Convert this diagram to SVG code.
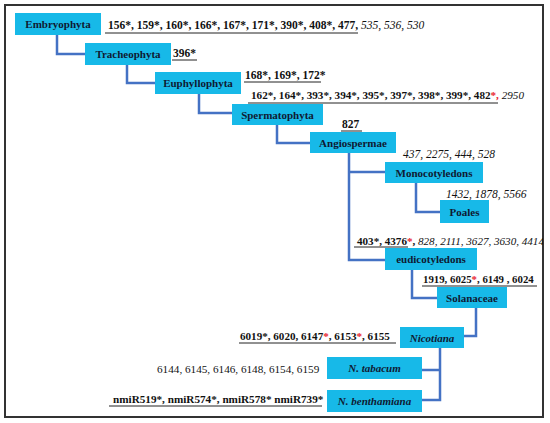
<svg xmlns="http://www.w3.org/2000/svg" width="550" height="423" viewBox="0 0 550 423">
<style>
.n{fill:#17b9e8}
.t{font-family:"Liberation Serif",serif;font-size:11px;font-weight:bold;fill:#0f1a33;text-anchor:middle}
.i{font-style:italic}
.l{font-family:"Liberation Serif",serif;font-size:11.5px;fill:#111}
.s{font-size:11.1px}
.b{font-weight:bold}
.r{fill:#e8202a}
.u{stroke:#222;stroke-width:1}
.c{fill:none;stroke:#4472c4;stroke-width:2.5}
</style>
<rect x="5" y="5" width="538" height="412" fill="#fff" stroke="#333" stroke-width="2"/>
<g id="connectors">
<path class="c" d="M57 35V54H85"/>
<path class="c" d="M127 65V83H155"/>
<path class="c" d="M199 94V113H232"/>
<path class="c" d="M277 125V143H310"/>
<path class="c" d="M349 153V260H385M349 172H385"/>
<path class="c" d="M416 183V212H440"/>
<path class="c" d="M412 270V298H437"/>
<path class="c" d="M476 308V336H464"/>
<path class="c" d="M440 348V400H422M440 370H422"/>
</g>
<g id="embryophyta"><rect class="n" x="15" y="13" width="86" height="22"/><text class="t" x="58" y="28">Embryophyta</text></g>
<g id="tracheophyta"><rect class="n" x="85" y="43" width="86" height="22"/><text class="t" x="128" y="58">Tracheophyta</text></g>
<g id="euphyllophyta"><rect class="n" x="155" y="72" width="86" height="22"/><text class="t" x="198" y="87">Euphyllophyta</text></g>
<g id="spermatophyta"><rect class="n" x="232" y="104" width="91" height="21"/><text class="t" x="277.5" y="118.5">Spermatophyta</text></g>
<g id="angiospermae"><rect class="n" x="310" y="132" width="86" height="21"/><text class="t" x="353" y="146.5">Angiospermae</text></g>
<g id="monocotyledons"><rect class="n" x="385" y="162" width="98" height="21"/><text class="t" x="434" y="176.5">Monocotyledons</text></g>
<g id="poales"><rect class="n" x="440" y="200" width="49" height="23"/><text class="t" x="464.5" y="215.5">Poales</text></g>
<g id="eudicotyledons"><rect class="n" x="385" y="248" width="92" height="22"/><text class="t" x="431" y="263">eudicotyledons</text></g>
<g id="solanaceae"><rect class="n" x="437" y="287" width="70" height="21"/><text class="t" x="472" y="301.5">Solanaceae</text></g>
<g id="nicotiana"><rect class="n" x="400" y="327" width="64" height="21"/><text class="t i" x="432" y="341.5">Nicotiana</text></g>
<g id="n-tabacum"><rect class="n" x="327" y="357" width="95" height="22"/><text class="t i" x="374.5" y="372">N. tabacum</text></g>
<g id="n-benthamiana"><rect class="n" x="327" y="390" width="95" height="22"/><text class="t i" x="374.5" y="405">N. benthamiana</text></g>
<g id="labels">
<text class="l" x="108" y="29"><tspan class="b">156*, 159*, 160*, 166*, 167*, 171*, 390*, 408*, 477,</tspan><tspan class="i"> 535, 536, 530</tspan></text>
<line class="u" x1="105" y1="33" x2="358" y2="33"/>
<text class="l b" x="173" y="57">396*</text>
<line class="u" x1="172" y1="60" x2="197" y2="60"/>
<text class="l b" x="245" y="79">168*, 169*, 172*</text>
<line class="u" x1="244" y1="82" x2="321" y2="82"/>
<text class="l" x="251" y="99" style="font-size:11.15px"><tspan class="b">162*, 164*, 393*, 394*, 395*, 397*, 398*, 399*, 482</tspan><tspan class="b r">*,</tspan><tspan class="i">  2950</tspan></text>
<line class="u" x1="248" y1="103" x2="498" y2="103"/>
<text class="l b" x="342" y="128">827</text>
<line class="u" x1="341" y1="131" x2="362" y2="131"/>
<text class="l i" x="403" y="158">437, 2275, 444, 528</text>
<text class="l i" x="446" y="198">1432, 1878, 5566</text>
<svg x="0" y="0" width="543" height="423" overflow="hidden">
<text class="l" x="357" y="245" style="font-size:11.1px"><tspan class="b">403*, 4376</tspan><tspan class="b r">*</tspan><tspan class="b">, </tspan><tspan class="i">828, 2111, 3627, 3630, 4414</tspan></text>
</svg>
<line class="u" x1="354" y1="247" x2="408" y2="247"/>
<text class="l b" x="423" y="283" style="font-size:10.8px">1919, 6025<tspan class="r">*</tspan>, 6149 , 6024</text>
<line class="u" x1="422" y1="286" x2="537" y2="286"/>
<text class="l b s" x="240" y="340">6019*, 6020, 6147<tspan class="r">*</tspan>, 6153<tspan class="r">*</tspan>, 6155</text>
<line class="u" x1="239" y1="343" x2="396" y2="343"/>
<text class="l" x="157" y="373" style="font-size:11.2px">6144, 6145, 6146, 6148, 6154, 6159</text>
<text class="l b" x="113" y="403" style="font-size:11.2px">nmiR519*, nmiR574*, nmiR578* nmiR739*</text>
<line class="u" x1="109" y1="406" x2="322" y2="406"/>
</g>
</svg>
